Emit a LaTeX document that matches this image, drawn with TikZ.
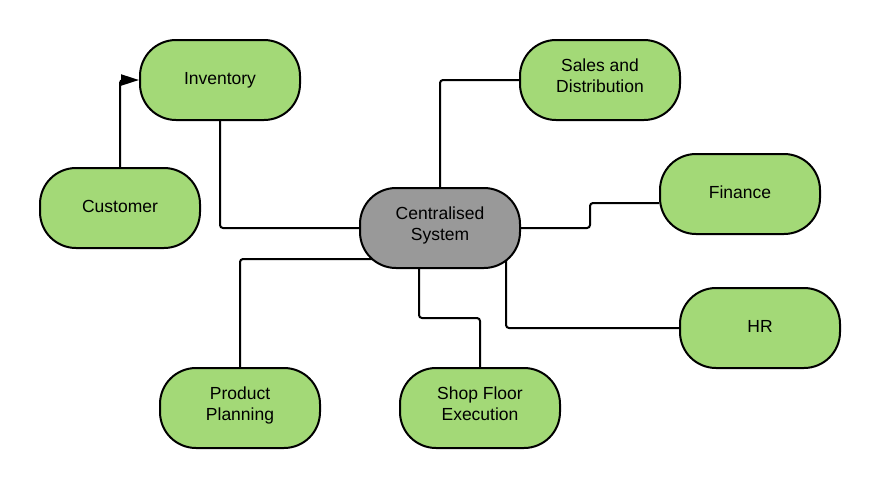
\documentclass[tikz,border=0pt]{standalone}
\usepackage{fontspec}
\setmainfont{Liberation Sans}
\usetikzlibrary{arrows.meta,backgrounds}
\definecolor{nodegreen}{HTML}{A3D977}
\definecolor{nodegray}{HTML}{999999}
\begin{document}
\begin{tikzpicture}[x=1pt,y=-1pt,
  box/.style={draw=black,line width=2pt,fill=nodegreen,rounded corners=36pt,
    minimum width=160pt,minimum height=80pt,inner sep=0pt,align=center,
    text height=14pt,text depth=6pt,
    font=\fontsize{17.5pt}{21.7pt}\selectfont},
  two/.style={text height=35.7pt,text depth=10pt},
  hub/.style={box,fill=nodegray},
  link/.style={draw=black,line width=2pt,rounded corners=3pt},
  arrowlink/.style={link,-{Triangle[length=18pt,width=11pt]}}]
\useasboundingbox (0,0) rectangle (880,488);
\node[box] (inv) at (220,80) {Inventory};
\node[box] (cust) at (120,208) {Customer};
\node[hub,two] (central) at (440,228) {Centralised\\System};
\node[box,two] (sales) at (600,80) {Sales and\\Distribution};
\node[box] (fin) at (740,194) {Finance};
\node[box] (hr) at (760,328) {HR};
\node[box,two] (pp) at (240,408) {Product\\Planning};
\node[box,two] (sf) at (480,408) {Shop Floor\\Execution};
\begin{scope}[on background layer]
\draw[arrowlink] (cust.north) |- (inv.west);
\draw[link] (inv.south) |- (central.west);
\draw[link] (central.north) |- (sales.west);
\draw[link] (central.east) -- ++(69,0) |- ([yshift=-9pt]fin.west);
\draw[link] ([xshift=66pt]central.center) |- (hr.west);
\draw[link] ([xshift=-21pt]central.south) -- ++(0,49) -| (sf.north);
\draw[link] ([yshift=-31pt]central.center) -| (pp.north);
\end{scope}
\end{tikzpicture}
\end{document}
